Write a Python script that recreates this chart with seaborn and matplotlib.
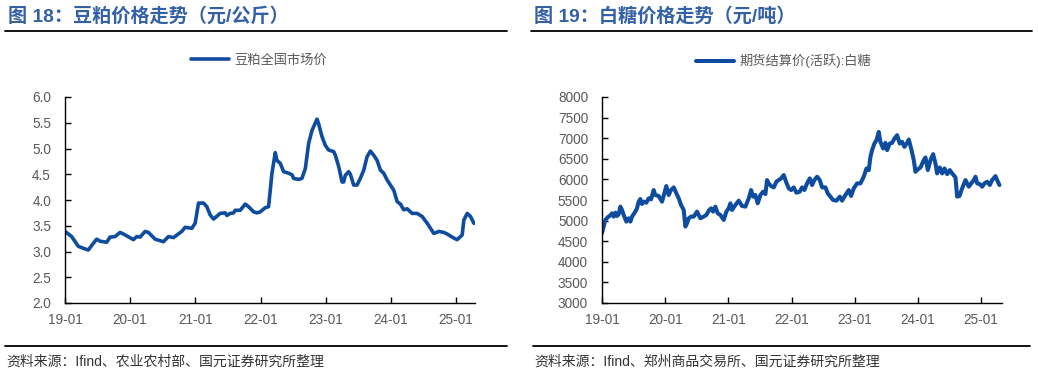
import numpy as np
import pandas as pd
import matplotlib
matplotlib.use('Agg')
import matplotlib.pyplot as plt
import seaborn as sns

# ---------------- data ----------------
# soybean meal, yuan/kg (x in decimal years)
meal_t = [2019.000, 2019.102, 2019.205, 2019.307, 2019.358, 2019.435, 2019.486, 2019.538,
          2019.640, 2019.691, 2019.768, 2019.845, 2019.896, 2020.050, 2020.101, 2020.152,
          2020.229, 2020.280, 2020.382, 2020.510, 2020.587, 2020.664, 2020.792, 2020.843,
          2020.946, 2020.997, 2021.048, 2021.125, 2021.176, 2021.227, 2021.279, 2021.381,
          2021.458, 2021.483, 2021.535, 2021.586, 2021.611, 2021.688, 2021.765, 2021.816,
          2021.893, 2021.944, 2021.995, 2022.072, 2022.123, 2022.149, 2022.175, 2022.226,
          2022.251, 2022.303, 2022.354, 2022.431, 2022.482, 2022.507, 2022.584, 2022.635,
          2022.687, 2022.738, 2022.789, 2022.866, 2022.891, 2022.943, 2022.994, 2023.045,
          2023.122, 2023.147, 2023.199, 2023.250, 2023.275, 2023.301, 2023.352, 2023.378,
          2023.429, 2023.480, 2023.531, 2023.583, 2023.634, 2023.685, 2023.736, 2023.788,
          2023.839, 2023.890, 2023.941, 2023.992, 2024.044, 2024.095, 2024.146, 2024.197,
          2024.248, 2024.325, 2024.402, 2024.479, 2024.556, 2024.607, 2024.658, 2024.735,
          2024.812, 2024.863, 2024.966, 2025.016, 2025.093, 2025.119, 2025.170, 2025.221,
          2025.272, 2025.298]
meal_v = [3.39, 3.29, 3.10, 3.05, 3.03, 3.16, 3.24, 3.20,
          3.18, 3.28, 3.29, 3.37, 3.34, 3.23, 3.29, 3.28,
          3.39, 3.37, 3.24, 3.19, 3.29, 3.27, 3.39, 3.47,
          3.45, 3.55, 3.94, 3.94, 3.87, 3.71, 3.63, 3.74,
          3.75, 3.70, 3.74, 3.75, 3.80, 3.80, 3.92, 3.87,
          3.77, 3.75, 3.77, 3.85, 3.87, 4.19, 4.52, 4.92,
          4.77, 4.71, 4.55, 4.52, 4.49, 4.42, 4.40, 4.42,
          4.61, 5.10, 5.35, 5.57, 5.48, 5.23, 5.06, 4.97,
          4.94, 4.87, 4.65, 4.35, 4.35, 4.48, 4.55, 4.50,
          4.29, 4.29, 4.42, 4.58, 4.84, 4.95, 4.87, 4.77,
          4.58, 4.52, 4.39, 4.29, 4.19, 3.97, 3.92, 3.81,
          3.83, 3.74, 3.74, 3.68, 3.55, 3.45, 3.35, 3.39,
          3.37, 3.34, 3.26, 3.23, 3.32, 3.61, 3.74, 3.68,
          3.55, 3.55]

# white sugar futures settlement price, yuan/ton
sugar_t = [2019.000, 2019.026, 2019.053, 2019.090, 2019.121, 2019.158, 2019.185, 2019.211,
           2019.237, 2019.264, 2019.290, 2019.317, 2019.343, 2019.385, 2019.422, 2019.449,
           2019.475, 2019.528, 2019.554, 2019.580, 2019.607, 2019.633, 2019.660, 2019.702,
           2019.739, 2019.776, 2019.818, 2019.844, 2019.897, 2019.950, 2019.987, 2020.018,
           2020.055, 2020.092, 2020.135, 2020.177, 2020.214, 2020.251, 2020.293, 2020.319,
           2020.346, 2020.372, 2020.409, 2020.451, 2020.504, 2020.557, 2020.609, 2020.652,
           2020.689, 2020.726, 2020.757, 2020.794, 2020.831, 2020.873, 2020.926, 2020.968,
           2021.005, 2021.032, 2021.058, 2021.111, 2021.164, 2021.216, 2021.269, 2021.322,
           2021.359, 2021.391, 2021.427, 2021.464, 2021.507, 2021.549, 2021.586, 2021.612,
           2021.639, 2021.675, 2021.718, 2021.760, 2021.797, 2021.834, 2021.876, 2021.918,
           2021.955, 2021.992, 2022.034, 2022.077, 2022.129, 2022.166, 2022.203, 2022.245,
           2022.288, 2022.325, 2022.361, 2022.404, 2022.446, 2022.483, 2022.536, 2022.573,
           2022.615, 2022.657, 2022.710, 2022.763, 2022.799, 2022.852, 2022.905, 2022.942,
           2022.984, 2023.037, 2023.090, 2023.142, 2023.185, 2023.222, 2023.248, 2023.274,
           2023.311, 2023.343, 2023.380, 2023.406, 2023.449, 2023.485, 2023.512, 2023.554,
           2023.591, 2023.628, 2023.670, 2023.712, 2023.749, 2023.786, 2023.828, 2023.855,
           2023.892, 2023.934, 2023.960, 2023.997, 2024.040, 2024.092, 2024.119, 2024.156,
           2024.198, 2024.240, 2024.277, 2024.303, 2024.346, 2024.383, 2024.420, 2024.462,
           2024.504, 2024.541, 2024.594, 2024.620, 2024.657, 2024.699, 2024.752, 2024.805,
           2024.842, 2024.884, 2024.910, 2024.937, 2024.979, 2025.016, 2025.053, 2025.095,
           2025.137, 2025.174, 2025.227, 2025.264, 2025.290]
sugar_v = [4693, 4855, 5016, 5081, 5113, 5177, 5097, 5194,
           5113, 5153, 5339, 5258, 5137, 4976, 5056, 4976,
           5097, 5218, 5298, 5460, 5524, 5403, 5460, 5435,
           5540, 5516, 5742, 5621, 5597, 5460, 5661, 5839,
           5621, 5742, 5806, 5661, 5540, 5379, 5258, 4855,
           4935, 5056, 5097, 5097, 5218, 5056, 5097, 5137,
           5242, 5298, 5218, 5339, 5177, 5137, 5016, 5218,
           5298, 5419, 5258, 5379, 5484, 5355, 5339, 5540,
           5742, 5581, 5621, 5419, 5621, 5702, 5645, 5984,
           5903, 5839, 5806, 5944, 5984, 6024, 6105, 5919,
           5782, 5742, 5806, 5677, 5702, 5806, 5742, 5903,
           6024, 5863, 5984, 6065, 5984, 5806, 5806, 5661,
           5581, 5500, 5484, 5581, 5484, 5621, 5742, 5597,
           5782, 5903, 5903, 6065, 6266, 6226, 6548, 6710,
           6871, 6952, 7153, 6911, 6750, 6887, 6710, 6871,
           6887, 6992, 7073, 6871, 6911, 6790, 6887, 6968,
           6750, 6468, 6185, 6242, 6290, 6468, 6532, 6226,
           6468, 6613, 6387, 6145, 6290, 6145, 6266, 6129,
           6226, 6145, 6048, 5581, 5597, 5782, 5984, 5823,
           5903, 5984, 6065, 5903, 5887, 5823, 5903, 5944,
           5863, 5984, 6081, 5944, 5863]

years = [2019, 2020, 2021, 2022, 2023, 2024, 2025]
year_labels = ['19-01', '20-01', '21-01', '22-01', '23-01', '24-01', '25-01']
meal_ticks = [2.0, 2.5, 3.0, 3.5, 4.0, 4.5, 5.0, 5.5, 6.0]
sugar_ticks = [3000, 3500, 4000, 4500, 5000, 5500, 6000, 6500, 7000, 7500, 8000]

meal = pd.DataFrame({'t': meal_t, 'v': meal_v})
sugar = pd.DataFrame({'t': sugar_t, 'v': sugar_v})

# ---------------- style ----------------
sns.set_theme(style='white')
plt.rcParams['font.family'] = ['Liberation Sans', 'Noto Sans CJK SC', 'DejaVu Sans']

LINE = '#0D4C9F'
TITLE = '#3461A6'
GREY = '#595959'

W, H = 1038, 375
fig = plt.figure(figsize=(W / 100, H / 100), dpi=100)


def px_axes(x0, y0, x1, y1):
    return fig.add_axes([x0 / W, 1 - y1 / H, (x1 - x0) / W, (y1 - y0) / H])


def style_axes(ax, ticks, fmt, xmax):
    ax.set_xlim(2019, xmax)
    ax.set_ylim(ticks[0], ticks[-1])
    ax.set_yticks(ticks)
    ax.set_yticklabels([fmt.format(t) for t in ticks])
    ax.set_xticks(years)
    ax.set_xticklabels(year_labels)
    ax.set_xlabel('')
    ax.set_ylabel('')
    for s in ['top', 'right']:
        ax.spines[s].set_visible(False)
    for s in ['left', 'bottom']:
        ax.spines[s].set_color('black')
        ax.spines[s].set_linewidth(1.0)
    ax.tick_params(axis='both', direction='in', length=4, width=1, color='black',
                   labelsize=9.8, labelcolor=GREY)
    ax.tick_params(axis='x', pad=7)
    ax.tick_params(axis='y', pad=10, left=True)
    ax.tick_params(axis='x', bottom=True)


# left chart
ax1 = px_axes(65, 97, 475, 303)
sns.lineplot(data=meal, x='t', y='v', ax=ax1, color=LINE, lw=2.6, label='豆粕全国市场价')
style_axes(ax1, meal_ticks, '{:.1f}', 2025.29)
ax1.legend(loc='center', bbox_to_anchor=(0.473, 1.175), frameon=False, fontsize=9.5,
           handlelength=2.9, handletextpad=0.4, labelcolor=GREY)

# right chart
ax2 = px_axes(602, 97, 1002, 303)
sns.lineplot(data=sugar, x='t', y='v', ax=ax2, color=LINE, lw=2.9, label='期货结算价(活跃):白糖')
style_axes(ax2, sugar_ticks, '{:d}', 2025.33)
ax2.legend(loc='center', bbox_to_anchor=(0.453, 1.175), frameon=False, fontsize=9.5,
           handlelength=2.9, handletextpad=0.4, labelcolor=GREY)

# titles, rules and sources
fig.text(8 / W, 1 - 16 / H, '图 18：豆粕价格走势（元/公斤）', color=TITLE, fontsize=13.8,
         fontweight='bold', va='center', ha='left')
fig.text(534 / W, 1 - 16 / H, '图 19：白糖价格走势（元/吨）', color=TITLE, fontsize=13.8,
         fontweight='bold', va='center', ha='left')

for (x0, x1) in [(5, 507), (531, 1032)]:
    fig.add_artist(plt.Line2D([x0 / W, x1 / W], [1 - 31 / H] * 2, color='black', lw=1.3))
for (x0, x1) in [(5, 507), (533, 1030)]:
    fig.add_artist(plt.Line2D([x0 / W, x1 / W], [1 - 346 / H] * 2, color='black', lw=1.3))

fig.text(6 / W, 1 - 362 / H, '资料来源：Ifind、农业农村部、国元证券研究所整理', color='#333333',
         fontsize=10, va='center', ha='left')
fig.text(534 / W, 1 - 362 / H, '资料来源：Ifind、郑州商品交易所、国元证券研究所整理', color='#333333',
         fontsize=10, va='center', ha='left')

fig.savefig('out.png', dpi=100)
